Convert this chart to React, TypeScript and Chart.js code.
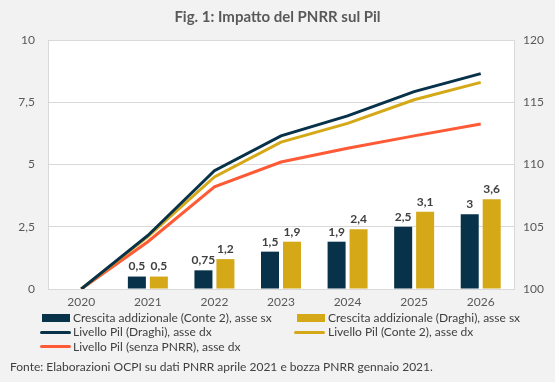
import React, { useEffect, useRef } from "react";
import { Chart, registerables } from "chart.js";

Chart.register(...registerables);

const years = ["2020", "2021", "2022", "2023", "2024", "2025", "2026"];
const crescitaConte = [null, 0.5, 0.75, 1.5, 1.9, 2.5, 3];
const crescitaDraghi = [null, 0.5, 1.2, 1.9, 2.4, 3.1, 3.6];
const pilDraghi = [100, 104.3, 109.5, 112.3, 113.9, 115.85, 117.3];
const pilConte = [100, 104.2, 109.0, 111.8, 113.3, 115.2, 116.6];
const pilSenza = [100, 103.8, 108.2, 110.2, 111.3, 112.3, 113.25];
const leftTicks = [0, 2.5, 5, 7.5, 10];
const rightTicks = [100, 105, 110, 115, 120];

const NAVY = "#08324a";
const GOLD = "#d4a817";
const RED = "#ff5a36";
const FONT = "Lato, 'Open Sans', sans-serif";

const fmt = (v: number) => String(v).replace(".", ",");

const plotBg = {
  id: "plotBg",
  beforeDraw(chart: any) {
    const { ctx, chartArea } = chart;
    ctx.save();
    ctx.fillStyle = "#ffffff";
    ctx.fillRect(chartArea.left, chartArea.top, chartArea.right - chartArea.left, chartArea.bottom - chartArea.top);
    ctx.restore();
  },
};

const barLabels = {
  id: "barLabels",
  afterDatasetsDraw(chart: any) {
    const { ctx } = chart;
    ctx.save();
    ctx.font = `bold 12px ${FONT}`;
    ctx.fillStyle = "#404040";
    ctx.textAlign = "center";
    ctx.textBaseline = "bottom";
    chart.data.datasets.forEach((ds: any, i: number) => {
      if (ds.type !== "bar") return;
      const meta = chart.getDatasetMeta(i);
      meta.data.forEach((el: any, j: number) => {
        const v = ds.data[j];
        if (v == null) return;
        ctx.fillText(fmt(v), el.x, el.y - 4);
      });
    });
    ctx.restore();
  },
};

export default function App() {
  const ref = useRef<HTMLCanvasElement>(null);
  useEffect(() => {
    document.body.style.margin = "0";
    const chart = new Chart(ref.current!, {
      type: "bar",
      data: {
        labels: years,
        datasets: [
          { type: "line", label: "Livello Pil (Draghi), asse dx", data: pilDraghi, borderColor: NAVY, backgroundColor: NAVY, borderWidth: 3, pointRadius: 0, yAxisID: "y2", order: 1 },
          { type: "line", label: "Livello Pil (Conte 2), asse dx", data: pilConte, borderColor: GOLD, backgroundColor: GOLD, borderWidth: 3, pointRadius: 0, yAxisID: "y2", order: 2 },
          { type: "line", label: "Livello Pil (senza PNRR), asse dx", data: pilSenza, borderColor: RED, backgroundColor: RED, borderWidth: 3, pointRadius: 0, yAxisID: "y2", order: 3 },
          { type: "bar", label: "Crescita addizionale (Conte 2), asse sx", data: crescitaConte, backgroundColor: NAVY, yAxisID: "y", categoryPercentage: 0.66, barPercentage: 0.82, order: 4 },
          { type: "bar", label: "Crescita addizionale (Draghi), asse sx", data: crescitaDraghi, backgroundColor: GOLD, yAxisID: "y", categoryPercentage: 0.66, barPercentage: 0.82, order: 5 },
        ] as any,
      },
      options: {
        animation: false,
        responsive: false,
        layout: { padding: { top: 40, bottom: 73, left: 0, right: 0 } },
        plugins: { legend: { display: false }, title: { display: false }, tooltip: { enabled: false } },
        scales: {
          x: {
            grid: { display: false, drawTicks: false },
            border: { color: "#d9d9d9" },
            ticks: { color: "#595959", font: { family: FONT, size: 12 }, padding: 6 },
            afterFit: (s: any) => { s.height = 20; },
          },
          y: {
            position: "left",
            min: 0, max: 10,
            afterBuildTicks: (s: any) => { s.ticks = leftTicks.map((v) => ({ value: v })); },
            grid: { color: "#d9d9d9", drawTicks: false },
            border: { color: "#d9d9d9" },
            ticks: { color: "#595959", font: { family: FONT, size: 12 }, padding: 13, callback: (v: any) => fmt(v) },
            afterFit: (s: any) => { s.width = 48; },
          },
          y2: {
            position: "right",
            min: 100, max: 120,
            afterBuildTicks: (s: any) => { s.ticks = rightTicks.map((v) => ({ value: v })); },
            grid: { display: false, drawTicks: false },
            border: { color: "#d9d9d9" },
            ticks: { color: "#595959", font: { family: FONT, size: 12 }, padding: 9 },
            afterFit: (s: any) => { s.width = 41; },
          },
        },
      } as any,
      plugins: [plotBg, barLabels],
    });
    return () => chart.destroy();
  }, []);

  const text = { position: "absolute" as const, fontFamily: FONT, fontSize: 12, color: "#404040", whiteSpace: "nowrap" as const, lineHeight: "14px" };
  const bar = (left: number, top: number, color: string) => (
    <div style={{ position: "absolute", left, top, width: 28, height: 8, background: color }} />
  );
  const line = (left: number, top: number, color: string) => (
    <div style={{ position: "absolute", left, top, width: 31, height: 3, borderRadius: 2, background: color }} />
  );

  return (
    <div style={{ position: "relative", width: 555, height: 382, background: "#f2f2f2", overflow: "hidden" }}>
      <canvas ref={ref} width={555} height={382} style={{ position: "absolute", left: 0, top: 0 }} />
      <div style={{ position: "absolute", left: 0, width: 555, top: 7, textAlign: "center", fontFamily: FONT, fontWeight: "bold", fontSize: 15, color: "#595959", lineHeight: "18px" }}>
        Fig. 1: Impatto del PNRR sul Pil
      </div>
      {bar(42, 314, NAVY)}
      <div style={{ ...text, left: 73, top: 311 }}>Crescita addizionale (Conte 2), asse sx</div>
      {bar(297, 314, GOLD)}
      <div style={{ ...text, left: 328, top: 311 }}>Crescita addizionale (Draghi), asse sx</div>
      {line(40, 331, NAVY)}
      <div style={{ ...text, left: 73, top: 325 }}>Livello Pil (Draghi), asse dx</div>
      {line(294, 331, GOLD)}
      <div style={{ ...text, left: 328, top: 325 }}>Livello Pil (Conte 2), asse dx</div>
      {line(40, 345, RED)}
      <div style={{ ...text, left: 73, top: 340 }}>Livello Pil (senza PNRR), asse dx</div>
      <div style={{ ...text, left: 10, top: 360, fontSize: 12 }}>
        Fonte: Elaborazioni OCPI su dati PNRR aprile 2021 e bozza PNRR gennaio 2021.
      </div>
    </div>
  );
}
